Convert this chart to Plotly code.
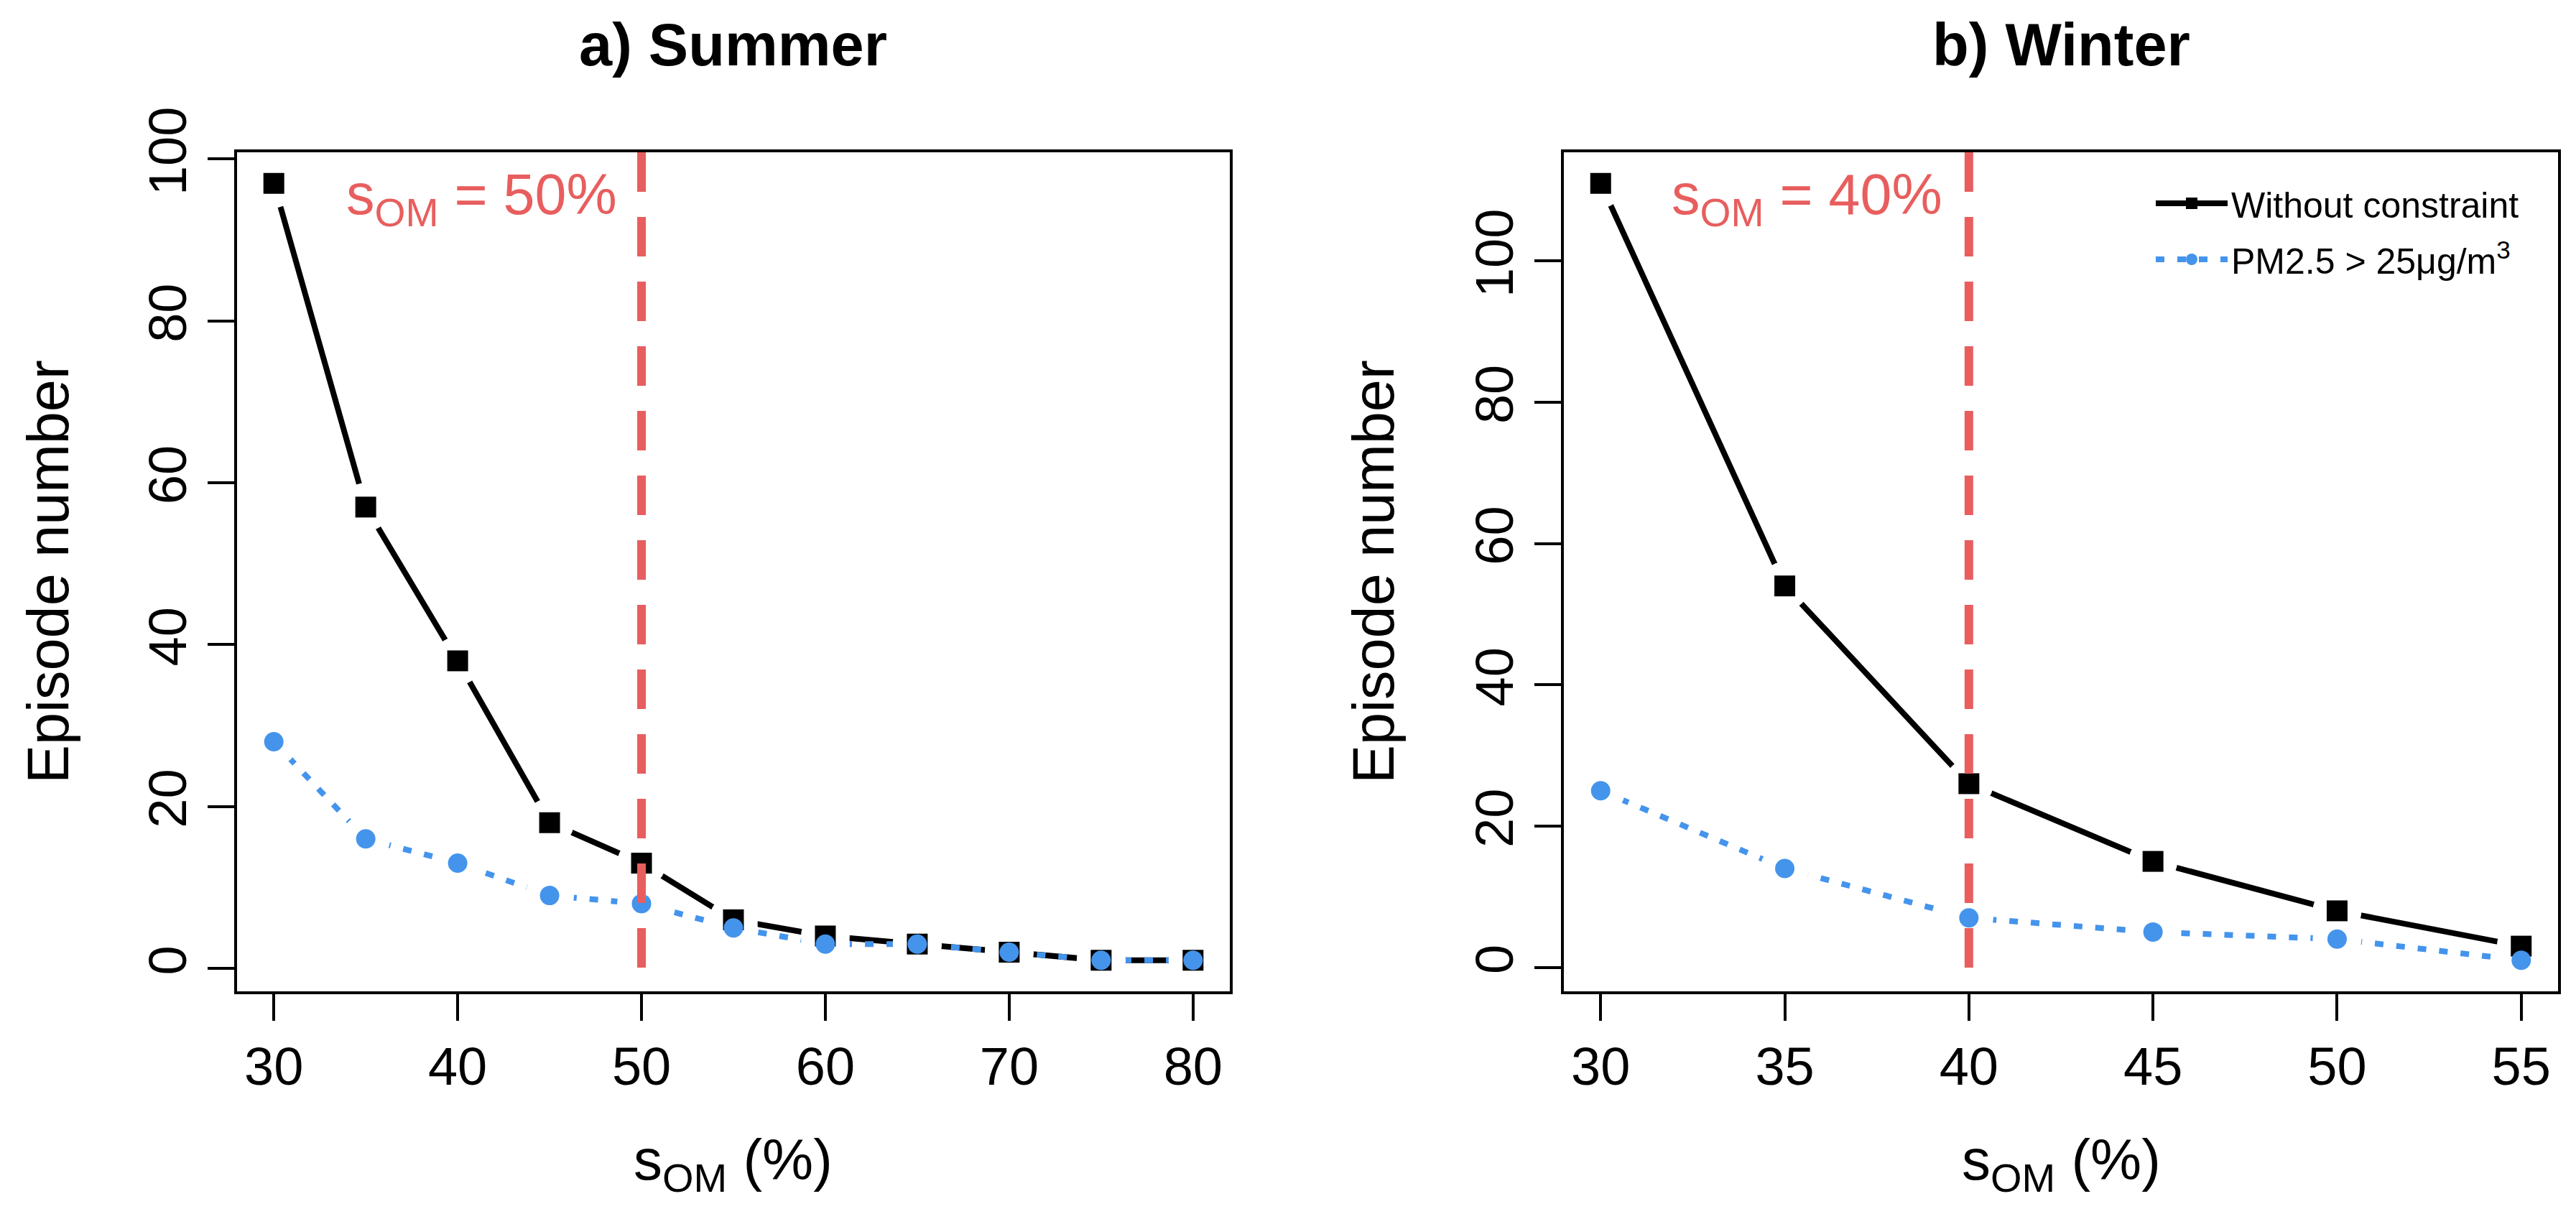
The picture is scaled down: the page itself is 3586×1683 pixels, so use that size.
import plotly.graph_objects as go

# data
summer_x = [30, 35, 40, 45, 50, 55, 60, 65, 70, 75, 80]
summer_all = [97, 57, 38, 18, 13, 6, 4, 3, 2, 1, 1]
summer_pm = [28, 16, 13, 9, 8, 5, 3, 3, 2, 1, 1]

winter_x = [30, 35, 40, 45, 50, 55]
winter_all = [111, 54, 26, 15, 8, 3]
winter_pm = [25, 14, 7, 5, 4, 1]

summer_cut = 50
winter_cut = 40

names = ["Without constraint", "PM2.5 &gt; 25μg/m<sup>3</sup>"]
titles = ["<b>a) Summer</b>", "<b>b) Winter</b>"]

W, H = 3586, 1683
BLACK = "#000000"
BLUE = "#4494EC"
RED = "#E85E5E"
FONT = "Liberation Sans, Arial, sans-serif"


def px_x(p):
    return p / W


def px_y(p):
    return 1 - p / H


fig = go.Figure()

panels = [
    (summer_x, summer_all, summer_pm, "x", "y", False),
    (winter_x, winter_all, winter_pm, "x2", "y2", True),
]

for xs, ys_all, ys_pm, xa, ya, legend in panels:
    # lines (also used for the legend)
    fig.add_trace(go.Scatter(
        x=xs, y=ys_all, xaxis=xa, yaxis=ya, mode="lines+markers",
        name=names[0], showlegend=legend, legendgroup="a",
        line=dict(color=BLACK, width=8),
        marker=dict(symbol="square", size=29, color=BLACK),
        hoverinfo="skip",
    ))
    fig.add_trace(go.Scatter(
        x=xs, y=ys_pm, xaxis=xa, yaxis=ya, mode="lines+markers",
        name=names[1], showlegend=legend, legendgroup="b",
        line=dict(color=BLUE, width=8, dash="12px,18px"),
        marker=dict(symbol="circle", size=27, color=BLUE),
        hoverinfo="skip",
    ))
    # white gaps around the points, like R type="b"
    fig.add_trace(go.Scatter(
        x=xs + xs, y=ys_all + ys_pm, xaxis=xa, yaxis=ya, mode="markers",
        showlegend=False, hoverinfo="skip",
        marker=dict(symbol="circle", size=68, color="white"),
    ))
    fig.add_trace(go.Scatter(
        x=xs, y=ys_all, xaxis=xa, yaxis=ya, mode="markers",
        showlegend=False, hoverinfo="skip",
        marker=dict(symbol="square", size=29, color=BLACK),
    ))
    fig.add_trace(go.Scatter(
        x=xs, y=ys_pm, xaxis=xa, yaxis=ya, mode="markers",
        showlegend=False, hoverinfo="skip",
        marker=dict(symbol="circle", size=27, color=BLUE),
    ))

axis_common = dict(
    showline=True, linewidth=4, linecolor=BLACK, mirror=True,
    ticks="outside", ticklen=37, tickwidth=4, tickcolor=BLACK,
    showgrid=False, zeroline=False, automargin=False,
    tickfont=dict(family=FONT, size=74, color=BLACK),
)

ydom = [px_y(1372), px_y(204)]
fig.update_layout(
    xaxis=dict(domain=[px_x(322), px_x(1704)], range=[28, 82],
               tickvals=summer_x[::2], anchor="y", **axis_common),
    yaxis=dict(domain=ydom, range=[-2.84, 100.84], tickvals=[0, 20, 40, 60, 80, 100],
               tickangle=-90, anchor="x", **axis_common),
    xaxis2=dict(domain=[px_x(2169), px_x(3553)], range=[29, 56],
                tickvals=winter_x, anchor="y2", **axis_common),
    yaxis2=dict(domain=ydom, range=[-3.4, 115.4], tickvals=[0, 20, 40, 60, 80, 100],
                tickangle=-90, anchor="x2", **axis_common),
)

# red threshold lines
for xref, cut in [("x", summer_cut), ("x2", winter_cut)]:
    fig.add_shape(type="line", xref=xref, yref=xref.replace("x", "y") + " domain",
                  x0=cut, x1=cut, y0=1, y1=0, layer="above",
                  line=dict(color=RED, width=12, dash="55px,35px"))

ann = []
centers = [(322 + 1704) / 2, (2169 + 3553) / 2]
for i, c in enumerate(centers):
    ann.append(dict(text=titles[i], x=px_x(c), y=px_y(54), xref="paper", yref="paper",
                    xanchor="center", yanchor="middle", showarrow=False,
                    font=dict(family=FONT, size=83, color=BLACK)))
    ann.append(dict(text="s<sub>OM</sub> (%)", x=px_x(c), y=px_y(1612), xref="paper", yref="paper",
                    xanchor="center", yanchor="middle", showarrow=False,
                    font=dict(family=FONT, size=80, color=BLACK)))
for xp in [59, 1904]:
    ann.append(dict(text="Episode number", x=px_x(xp), y=px_y(788), xref="paper", yref="paper",
                    xanchor="center", yanchor="middle", textangle=-90, showarrow=False,
                    font=dict(family=FONT, size=81, color=BLACK)))
for xp, cut in [(472, summer_cut), (2317, winter_cut)]:
    ann.append(dict(text=f"s<sub>OM</sub> = {cut}%", x=px_x(xp), y=px_y(268),
                    xref="paper", yref="paper", xanchor="left", yanchor="middle",
                    showarrow=False, font=dict(family=FONT, size=79, color=RED)))

fig.update_layout(
    width=W, height=H, autosize=False,
    margin=dict(l=0, r=0, t=0, b=0, pad=0, autoexpand=False),
    paper_bgcolor="white", plot_bgcolor="white",
    annotations=ann,
    font=dict(family=FONT, color=BLACK),
    legend=dict(x=px_x(2988), y=px_y(236), xanchor="left", yanchor="top",
                font=dict(family=FONT, size=50, color=BLACK),
                bgcolor="rgba(0,0,0,0)", itemwidth=100, tracegroupgap=10,
                traceorder="grouped"),
    showlegend=True,
)

fig.write_html("out.html")
